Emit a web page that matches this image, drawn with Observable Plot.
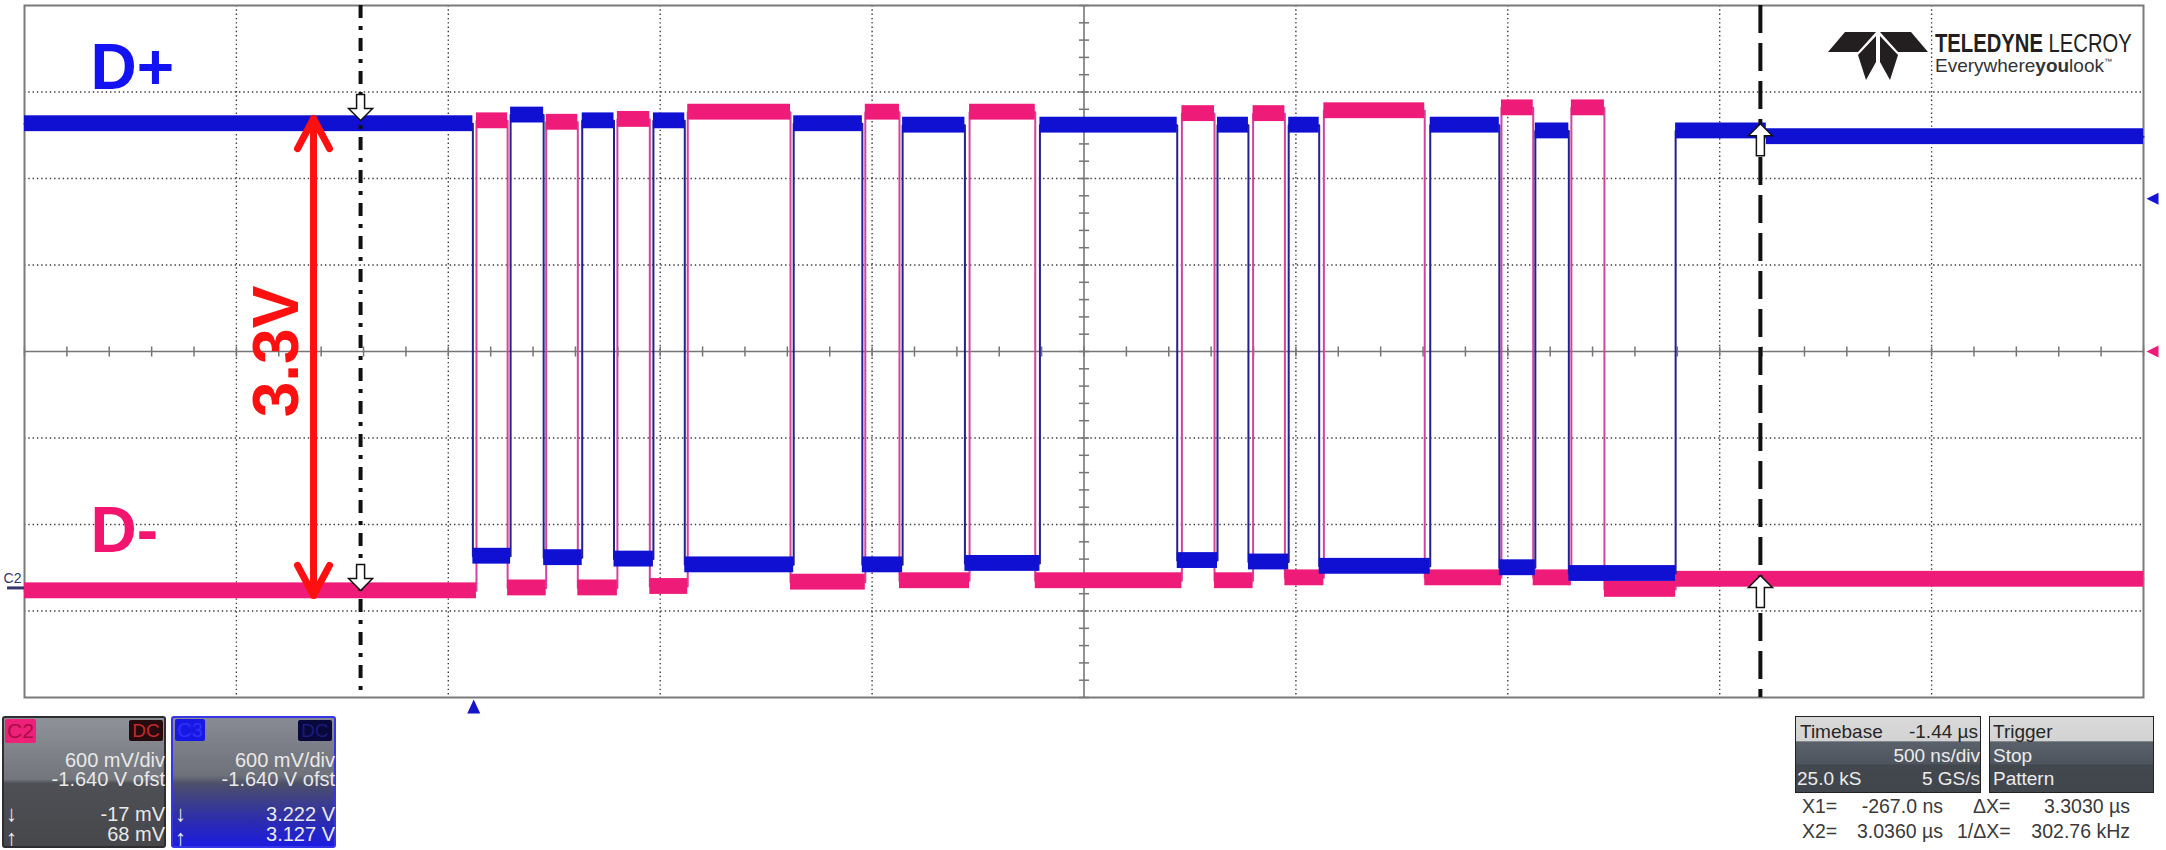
<!DOCTYPE html>
<html><head><meta charset="utf-8">
<script src="https://cdn.jsdelivr.net/npm/d3@7"></script>
<script src="https://cdn.jsdelivr.net/npm/@observablehq/plot@0.6"></script>
<style>
body{margin:0;background:#fff;font-family:"Liberation Sans",Arial,sans-serif;}
#wrap{position:relative;width:2166px;height:850px;overflow:hidden;background:#fff;}
#chart{position:absolute;left:0;top:0;}
.a{position:absolute;white-space:pre;line-height:1;}
.pn{position:absolute;box-sizing:border-box;}
.w{color:#e9e9e9;font-size:20px;}
.tw{color:#ececec;font-size:19px;}
.td{color:#262626;font-size:19px;}
.cr{color:#3a3a3a;font-size:19.5px;}
</style></head><body>
<div id="wrap">
<div id="chart"></div>

<!-- C2 panel -->
<div class="pn" style="left:2px;top:716px;width:164px;height:132px;border:2px solid #2e2e30;border-radius:3px;background:linear-gradient(to bottom,#8f9298 0%,#72757b 48%,#4e5055 51%,#45474b 100%);"></div>
<div class="pn" style="left:5px;top:719px;width:31px;height:24px;background:#ef2078;border-radius:2px;color:#a80e48;font-size:21px;text-align:center;line-height:24px;">C2</div>
<div class="pn" style="left:129px;top:720px;width:34px;height:21px;background:#250a0e;border-radius:2px;color:#c42a2a;font-size:19px;text-align:center;line-height:21px;">DC</div>
<div class="a w" style="left:0;width:165px;text-align:right;top:750px;">600 mV/div</div>
<div class="a w" style="left:0;width:165px;text-align:right;top:769px;">-1.640 V ofst</div>
<div class="a w" style="left:0;width:165px;text-align:right;top:804px;">-17 mV</div>
<div class="a w" style="left:0;width:165px;text-align:right;top:824px;">68 mV</div>
<div class="a w" style="left:6px;top:803px;font-size:22px;">↓</div>
<div class="a w" style="left:6px;top:827px;font-size:22px;">↑</div>

<!-- C3 panel -->
<div class="pn" style="left:171px;top:716px;width:165px;height:132px;border:2px solid #3636e6;border-radius:3px;background:linear-gradient(to bottom,#888b93 0%,#6e7179 45%,#4d5068 51%,#2c2cae 80%,#1c1ce0 100%);"></div>
<div class="pn" style="left:175px;top:719px;width:30px;height:22px;background:#1818e6;border-radius:2px;color:#3030f5;font-size:20px;text-align:center;line-height:22px;">C3</div>
<div class="pn" style="left:298px;top:720px;width:34px;height:21px;background:#08083a;border-radius:2px;color:#1a1a80;font-size:19px;text-align:center;line-height:21px;">DC</div>
<div class="a w" style="left:0;width:335px;text-align:right;top:750px;">600 mV/div</div>
<div class="a w" style="left:0;width:335px;text-align:right;top:769px;">-1.640 V ofst</div>
<div class="a w" style="left:0;width:335px;text-align:right;top:804px;">3.222 V</div>
<div class="a w" style="left:0;width:335px;text-align:right;top:824px;">3.127 V</div>
<div class="a w" style="left:175px;top:803px;font-size:22px;">↓</div>
<div class="a w" style="left:175px;top:827px;font-size:22px;">↑</div>

<!-- Timebase panel -->
<div class="pn" style="left:1795px;top:716px;width:186px;height:77px;border:1.5px solid #222;background:linear-gradient(to bottom,#d9d9d9 0%,#d3d3d3 32%,#5a616b 33%,#4e555e 62%,#43484f 64%,#41464d 100%);"></div>
<div class="a td" style="left:1800px;top:722px;">Timebase</div>
<div class="a td" style="left:1795px;width:183px;text-align:right;top:722px;">-1.44 µs</div>
<div class="a tw" style="left:1795px;width:185px;text-align:right;top:746px;">500 ns/div</div>
<div class="a tw" style="left:1797px;top:769px;">25.0 kS</div>
<div class="a tw" style="left:1795px;width:185px;text-align:right;top:769px;">5 GS/s</div>
<!-- Trigger panel -->
<div class="pn" style="left:1989px;top:716px;width:165px;height:77px;border:1.5px solid #222;background:linear-gradient(to bottom,#d9d9d9 0%,#d3d3d3 32%,#5a616b 33%,#4e555e 62%,#43484f 64%,#41464d 100%);"></div>
<div class="a td" style="left:1993px;top:722px;">Trigger</div>
<div class="a tw" style="left:1993px;top:746px;">Stop</div>
<div class="a tw" style="left:1993px;top:769px;">Pattern</div>
<!-- cursor readouts -->
<div class="a cr" style="left:1802px;top:797px;">X1=</div>
<div class="a cr" style="left:1800px;width:143px;text-align:right;top:797px;">-267.0 ns</div>
<div class="a cr" style="left:1973px;top:797px;">ΔX=</div>
<div class="a cr" style="left:1990px;width:140px;text-align:right;top:797px;">3.3030 µs</div>
<div class="a cr" style="left:1802px;top:822px;">X2=</div>
<div class="a cr" style="left:1800px;width:143px;text-align:right;top:822px;">3.0360 µs</div>
<div class="a cr" style="left:1957px;top:822px;">1/ΔX=</div>
<div class="a cr" style="left:1990px;width:140px;text-align:right;top:822px;">302.76 kHz</div>

<!-- Logo -->
<svg class="pn" style="left:1828px;top:22px;" width="330" height="64" viewBox="0 0 330 64">
  <g fill="#231f20" transform="translate(0,10)">
    <path d="M0,20 L17,0 L48,0 L30,20 Z"/>
    <path d="M100,20 L83,0 L52,0 L70,20 Z"/>
    <path d="M30,23 L48,4 L48,30 L38,48 Z"/>
    <path d="M70,23 L52,4 L52,30 L62,48 Z"/>
  </g>
  <g transform="translate(107,30) scale(0.88,1.12)">
    <text x="0" y="0" font-family="Liberation Sans, Arial" font-size="23" fill="#231f20"><tspan font-weight="bold">TELEDYNE</tspan> LECROY</text>
  </g>
  <text x="107" y="50" font-family="Liberation Sans, Arial" font-size="19" fill="#333">Everywhere<tspan font-weight="bold">you</tspan>look<tspan font-size="8" dy="-8">™</tspan></text>
</svg>
</div>
<script>
// ---- scope settings ----
const timeDomain = [-1.06, 3.94];      // µs (500 ns/div, trigger at 0, timebase -1.44 µs)
const voltDomain = [-0.76, 4.04];      // V  (600 mV/div, -1.640 V offset)
const timeDiv = 0.5, voltDiv = 0.6;
const centerTime = 1.44, centerVolt = 1.64;

// ---- D+ (blue, C3) : edge times (µs) and level per segment (V) ----
const dPlusEdges  = [-1.06, -0.002, 0.087, 0.165, 0.256, 0.331, 0.424, 0.498, 0.755, 0.917, 1.012, 1.159, 1.336, 1.660, 1.755, 1.828, 1.923, 1.995, 2.257, 2.420, 2.505, 2.584, 2.836, 3.05, 3.94];
const dPlusLevels = [3.22, 0.22, 3.28, 0.21, 3.24, 0.20, 3.24, 0.16, 3.22, 0.16, 3.21, 0.17, 3.21, 0.19, 3.21, 0.18, 3.21, 0.15, 3.21, 0.14, 3.17, 0.10, 3.17, 3.13];

// ---- D- (pink, C2) ----
const dMinusEdges  = [-1.06, 0.0065, 0.080, 0.171, 0.2456, 0.339, 0.4155, 0.505, 0.7475, 0.924, 1.0046, 1.170, 1.325, 1.671, 1.748, 1.839, 1.914, 2.006, 2.244, 2.425, 2.500, 2.590, 2.668, 2.836, 3.94];
const dMinusLevels = [-0.02, 3.24, 0.00, 3.23, 0.00, 3.25, 0.01, 3.30, 0.04, 3.30, 0.05, 3.30, 0.05, 3.29, 0.05, 3.29, 0.07, 3.31, 0.07, 3.33, 0.07, 3.33, -0.01, 0.06];

// ---- cursors / annotations ----
const cursorX1 = -0.267, cursorX2 = 3.036;
const cursorDownMarks = [{t: -0.267, v: 3.242}, {t: -0.267, v: -0.018}];
const cursorUpMarks   = [{t: 3.036, v: 3.22}, {t: 3.036, v: 0.086}];
const triggerTimes = [0];
const rightMarkers = [{v: 2.70, c: "#1414d8"}, {v: 1.64, c: "#ee1c78"}];
const arrowSpan = {t: -0.378, top: 3.256, bottom: -0.052};
const labels = [
  {t: -0.904, v: 3.606, text: "D+", c: "#1212f2"},
  {t: -0.904, v: 0.391, text: "D-", c: "#f2146e"}
];
const voltLabel = [{t: -0.463, v: 1.64, text: "3.3V"}];
const groundLabel = [{t: -1.06, v: 0.065, text: "C2"}];

const BLUE = "#1010d2", PINK = "#ee1c78";
const band = 0.055;

const segs = (e, l) => l.map((v, i) => ({t0: e[i], t1: e[i + 1], v}));
const pts = (e, l) => l.flatMap((v, i) => [{t: e[i], v}, {t: e[i + 1], v}]);

const xGrid = d3.range(1, 10).map(k => timeDomain[0] + k * timeDiv).filter(t => Math.abs(t - centerTime) > 1e-6);
const yGrid = d3.range(1, 8).map(k => voltDomain[0] + k * voltDiv).filter(v => Math.abs(v - centerVolt) > 1e-6);
const hTicks = d3.range(0, 51).map(k => timeDomain[0] + k * timeDiv / 5);
const vTicks = d3.range(0, 41).map(k => voltDomain[0] + k * voltDiv / 5);

const arrowDown = {draw(ctx) { ctx.moveTo(0, 0); ctx.lineTo(12, -12); ctx.lineTo(4, -12); ctx.lineTo(4, -26); ctx.lineTo(-4, -26); ctx.lineTo(-4, -12); ctx.lineTo(-12, -12); ctx.closePath(); }};
const arrowUp = {draw(ctx) { ctx.moveTo(0, 0); ctx.lineTo(12, 12); ctx.lineTo(4, 12); ctx.lineTo(4, 32); ctx.lineTo(-4, 32); ctx.lineTo(-4, 12); ctx.lineTo(-12, 12); ctx.closePath(); }};
const triUp = {draw(ctx) { ctx.moveTo(0, -7); ctx.lineTo(6.5, 7); ctx.lineTo(-6.5, 7); ctx.closePath(); }};
const triLeft = {draw(ctx) { ctx.moveTo(-6, 0); ctx.lineTo(6, -6); ctx.lineTo(6, 6); ctx.closePath(); }};

const font = "Liberation Sans, Arial, sans-serif";

const chart = Plot.plot({
  width: 2166, height: 850,
  marginLeft: 24, marginRight: 23, marginTop: 5, marginBottom: 153,
  x: {domain: timeDomain, axis: null},
  y: {domain: voltDomain, axis: null},
  style: {background: "transparent", fontFamily: font},
  marks: [
    Plot.ruleX(xGrid, {x: d => d, stroke: "#3c3c3c", strokeWidth: 1.4, strokeDasharray: "1.4,2.9"}),
    Plot.ruleY(yGrid, {y: d => d, stroke: "#3c3c3c", strokeWidth: 1.4, strokeDasharray: "1.4,2.9"}),
    Plot.ruleX([centerTime], {x: d => d, stroke: "#767676", strokeWidth: 1.6}),
    Plot.ruleY([centerVolt], {y: d => d, stroke: "#767676", strokeWidth: 1.6}),
    Plot.link(hTicks, {x1: d => d, x2: d => d, y1: () => centerVolt - 0.035, y2: () => centerVolt + 0.035, stroke: "#767676", strokeWidth: 1.5}),
    Plot.link(vTicks, {y1: d => d, y2: d => d, x1: () => centerTime - 0.012, x2: () => centerTime + 0.012, stroke: "#767676", strokeWidth: 1.5}),
    Plot.frame({stroke: "#7a7a7a", strokeWidth: 2}),

    // D- (pink)
    Plot.line(pts(dMinusEdges, dMinusLevels), {x: "t", y: "v", stroke: "#d2449e", strokeWidth: 2}),
    Plot.rect(segs(dMinusEdges, dMinusLevels), {x1: "t0", x2: "t1", y1: d => d.v - band, y2: d => d.v + band, fill: PINK}),
    // D+ (blue)
    Plot.line(pts(dPlusEdges, dPlusLevels), {x: "t", y: "v", stroke: "#24208c", strokeWidth: 2}),
    Plot.rect(segs(dPlusEdges, dPlusLevels), {x1: "t0", x2: "t1", y1: d => d.v - band, y2: d => d.v + band, fill: BLUE}),

    // cursors
    Plot.ruleX([cursorX1], {x: d => d, stroke: "#111", strokeWidth: 4, strokeDasharray: "13,8,4,8"}),
    Plot.ruleX([cursorX2], {x: d => d, stroke: "#111", strokeWidth: 4, strokeDasharray: "28,10"}),
    Plot.dot(cursorDownMarks, {x: "t", y: "v", symbol: arrowDown, r: 10, fill: "white", stroke: "#111", strokeWidth: 1.5}),
    Plot.dot(cursorUpMarks, {x: "t", y: "v", symbol: arrowUp, r: 10, fill: "white", stroke: "#111", strokeWidth: 1.5}),

    // red 3.3V arrow
    Plot.arrow([{y1: 1.6, y2: arrowSpan.top}, {y1: 1.6, y2: arrowSpan.bottom}], {
      x1: () => arrowSpan.t, x2: () => arrowSpan.t, y1: "y1", y2: "y2",
      stroke: "#ff1010", strokeWidth: 7, headLength: 7.3, headAngle: 56, strokeLinecap: "round", strokeLinejoin: "round"
    }),
    Plot.text(voltLabel, {x: "t", y: "v", text: "text", rotate: -90, fontSize: 64, fontWeight: "bold", fill: "#ff1010", textAnchor: "middle", lineAnchor: "middle", fontFamily: font}),
    Plot.text(labels, {x: "t", y: "v", text: "text", fill: "c", fontSize: 64, fontWeight: "bold", textAnchor: "start", lineAnchor: "middle", fontFamily: font}),

    // markers
    Plot.dot(triggerTimes, {x: d => d, frameAnchor: "bottom", dy: 9, symbol: triUp, r: 7, fill: "#1414c8", stroke: "none"}),
    Plot.dot(rightMarkers, {y: "v", frameAnchor: "right", dx: 9, symbol: triLeft, r: 6, fill: "c", stroke: "none"}),
    Plot.ruleY([0], {y: d => d, x1: () => -1.10, x2: () => -1.06, stroke: "#34346e", strokeWidth: 3}),
    Plot.text(groundLabel, {x: "t", y: "v", text: "text", dx: -12, fontSize: 14, fill: "#34346e", textAnchor: "middle", fontFamily: font})
  ]
});
document.getElementById("chart").appendChild(chart);
</script>
</body></html>
